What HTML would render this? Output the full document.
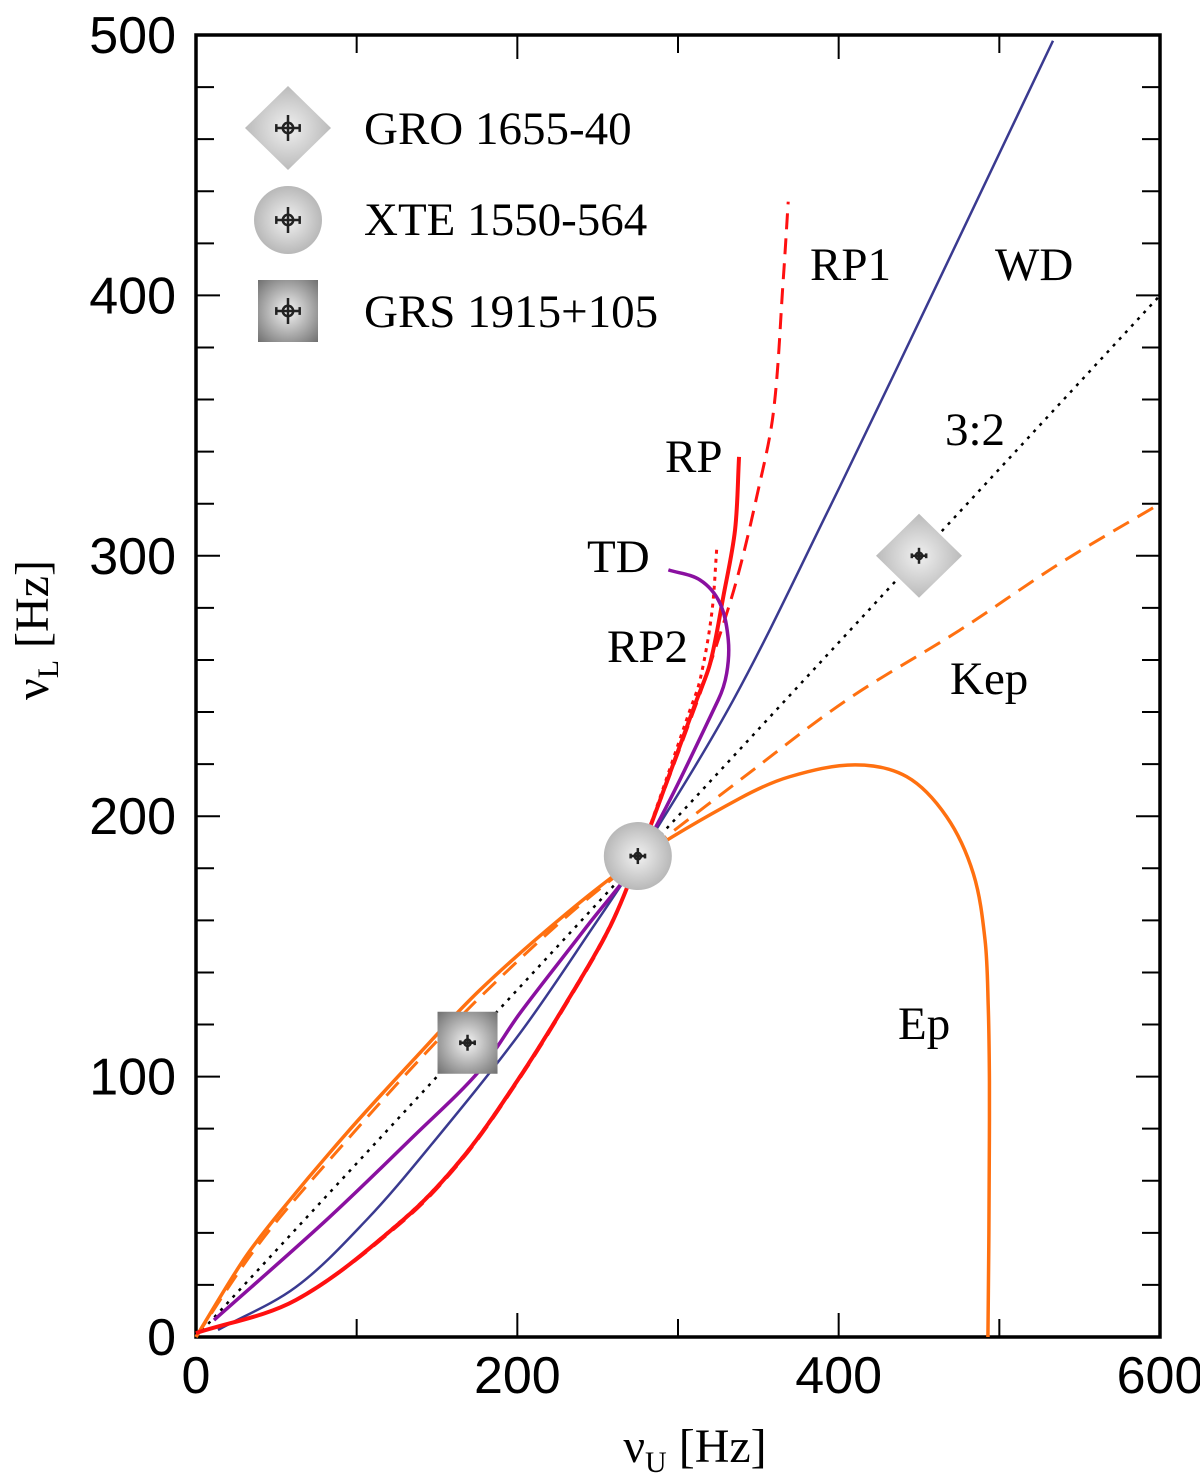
<!DOCTYPE html>
<html><head><meta charset="utf-8"><style>
body{margin:0;background:#fff}
svg{display:block}
</style></head><body>
<svg id="chart" width="1200" height="1475" viewBox="0 0 1200 1475">
<defs>
<radialGradient id="gc" cx="50%" cy="50%" r="50%"><stop offset="0" stop-color="#f2f2f2"/><stop offset="1" stop-color="#b8b8b8"/></radialGradient>
<radialGradient id="gs" cx="50%" cy="50%" r="70%"><stop offset="0" stop-color="#f4f4f4"/><stop offset="1" stop-color="#707070"/></radialGradient>
<radialGradient id="gd" cx="50%" cy="50%" r="60%"><stop offset="0" stop-color="#f0f0f0"/><stop offset="1" stop-color="#b0b0b0"/></radialGradient>
</defs>
<g id="axes"></g>
<g id="curves"></g>
<g id="marks"></g>
<g id="labels" font-family="Liberation Serif, serif" font-size="47" fill="#000">
<text x="810" y="280">RP1</text>
<text x="995" y="280">WD</text>
<text x="945" y="445">3:2</text>
<text x="665" y="472">RP</text>
<text x="587" y="572">TD</text>
<text x="607" y="662">RP2</text>
<text x="950" y="694">Kep</text>
<text x="898" y="1039">Ep</text>
</g>
<g id="legend" font-family="Liberation Serif, serif" font-size="47">
<text x="364" y="144">GRO 1655-40</text>
<text x="364" y="235">XTE 1550-564</text>
<text x="364" y="327">GRS 1915+105</text>
</g>
<text x="48" y="630" transform="rotate(-90 48 630)" text-anchor="middle" font-family="Liberation Serif, serif" font-size="48">ν<tspan font-size="30" dy="10">L</tspan><tspan dy="-10"> [Hz]</tspan></text>
<text x="695" y="1462" text-anchor="middle" font-family="Liberation Serif, serif" font-size="48">ν<tspan font-size="30" dy="10">U</tspan><tspan dy="-10"> [Hz]</tspan></text>
</svg>
<script>
const xTicks=[0,200,400,600];
const yTicks=[0,100,200,300,400,500];
const kepU=[0,30,52.3,93.8,135.3,176.8,230.7,275.3,338.6,405,475.5,537.7,600];
const kepL=[0,28,46,75.5,104,130.5,161.5,183.8,213.9,244.6,271.5,297.1,320];
const epU=[0,30,52.3,93.8,135.3,176.8,230.7,275.3,338.6,369.7,410.2,442.3,467.2,483.8,491.1,493.1,493.8,493.8,493.5,492.9];
const epL=[0,30,48,78.3,106.4,133.3,162.7,183.8,206.9,215.2,219.7,215.2,199.8,178,152.5,126.8,101.3,75.6,40,0];
const wdU=[13.7,62.2,106.2,145.6,201.7,247.3,275.3,334.4,392.6,454.8,533.4];
const wdL=[2.7,19.2,45,73.2,116.7,157.6,183.8,244.6,316.3,396,497.8];
const rpU=[0,62.2,129,166.4,201.7,232.8,257.7,275.3,311.6,320,328.2,335.5,338];
const rpL=[1.5,14.2,45,69.2,100,130.7,157.6,183.8,244.6,258.7,284.3,309.9,338];
const rp1U=[0,62.2,129,166.4,201.7,232.8,257.7,275.3,311.6,322,336.5,349,359.3,365.5,368.6];
const rp1L=[1.5,14.2,44.5,68.7,99.5,130.2,157.2,183.8,243.5,262,290.7,322.7,354.7,406,436];
const rp2U=[0,62.2,129,166.4,201.7,232.8,257.7,275.3,307,313.7,321,324.2];
const rp2L=[1.5,14.2,45.3,69.5,100.3,131,158,183.8,240,252.3,277.9,303.5];
const tdU=[11.2,81.3,135.3,176.8,201.7,243.2,275.3,325,330.3,331.3,326.1,313.7,294];
const tdL=[6.5,45,77,102.5,124.4,157.6,183.8,244.6,254.9,267.7,281.8,290.7,294.6];
const srcName=['GRO 1655-40','XTE 1550-564','GRS 1915+105'];
const srcU=[450,275,169];
const srcL=[300,184.7,113];
const X=v=>196+v*964/600, Y=v=>1337-v*1302/500;
const NS='http://www.w3.org/2000/svg';
function mk(t,a,p){const e=document.createElementNS(NS,t);for(const k in a)e.setAttribute(k,a[k]);p.appendChild(e);return e;}
const ax=document.getElementById('axes');
const frame=mk('rect',{x:196,y:35,width:964,height:1302,fill:'none',stroke:'#000','stroke-width':3.5},ax);


for(let v=0;v<=600;v+=100){const L=v%200===0?24:18;
 mk('line',{x1:X(v),x2:X(v),y1:1337,y2:1337-L,stroke:'#000','stroke-width':2},ax);
 mk('line',{x1:X(v),x2:X(v),y1:35,y2:35+L,stroke:'#000','stroke-width':2},ax);}
for(let v=0;v<=500;v+=20){const L=v%100===0?24:18;
 mk('line',{x1:196,x2:196+L,y1:Y(v),y2:Y(v),stroke:'#000','stroke-width':2},ax);
 mk('line',{x1:1160,x2:1160-L,y1:Y(v),y2:Y(v),stroke:'#000','stroke-width':2},ax);}
xTicks.forEach(v=>{const t=mk('text',{x:X(v),y:1393,'text-anchor':'middle','font-family':'Liberation Sans, sans-serif','font-size':52},ax);t.textContent=v;
 
 });
yTicks.forEach(v=>{const t=mk('text',{x:176,y:Y(v)+18,'text-anchor':'end','font-family':'Liberation Sans, sans-serif','font-size':52},ax);t.textContent=v;
 
 });
function path(us,ls){const p=us.map((u,i)=>[X(u),Y(ls[i])]);const n=p.length;
 const dist=(a,b)=>Math.hypot(b[0]-a[0],b[1]-a[1]);
 const tan=p.map((q,i)=>{const a=p[Math.max(0,i-1)],b=p[Math.min(n-1,i+1)];const d=dist(a,b)||1;return[(b[0]-a[0])/d,(b[1]-a[1])/d];});
 let d='M'+p[0].join(',');
 for(let i=0;i<n-1;i++){const L=dist(p[i],p[i+1])/3;
  const c1=[p[i][0]+tan[i][0]*L,p[i][1]+tan[i][1]*L],c2=[p[i+1][0]-tan[i+1][0]*L,p[i+1][1]-tan[i+1][1]*L];
  d+=`C${c1.join(',')} ${c2.join(',')} ${p[i+1].join(',')}`;}return d;}
const cg=document.getElementById('curves');
function curve(us,ls,color,w,dash,name){const e=mk('path',{d:path(us,ls),fill:'none',stroke:color,'stroke-width':w},cg);if(dash)e.setAttribute('stroke-dasharray',dash);
 
 }
const r32=mk('line',{x1:X(0),y1:Y(0),x2:X(600),y2:Y(400),stroke:'#000','stroke-width':2.5,'stroke-dasharray':'3,6'},cg);


curve(kepU,kepL,'#ff7010',3,'18,10','curve-kep');
curve(epU,epL,'#ff7010',3.5,null,'curve-ep');
curve(wdU,wdL,'#3a3a90',2.5,null,'curve-wd');
curve(rp1U,rp1L,'#ff1010',3,'16,9','curve-rp1');
curve(rp2U,rp2L,'#ff1010',3,'4,5','curve-rp2');
curve(rpU,rpL,'#ff1010',4,null,'curve-rp');
curve(tdU,tdL,'#8a10a0',3.5,null,'curve-td');
const mg=document.getElementById('marks');
function cross(cx,cy,s){const g=mk('g',{stroke:'#222','stroke-width':2.5,fill:'none'},mg);
 mk('line',{x1:cx-9*s,x2:cx+9*s,y1:cy,y2:cy},g);mk('line',{x1:cx,x2:cx,y1:cy-10*s,y2:cy+10*s},g);
 mk('line',{x1:cx-9*s,x2:cx-9*s,y1:cy-3*s,y2:cy+3*s},g);mk('line',{x1:cx+9*s,x2:cx+9*s,y1:cy-3*s,y2:cy+3*s},g);
 mk('circle',{cx:cx,cy:cy,r:4*s},g);return g;}
function marker(k,cx,cy,name){let e;
 if(k===0)e=mk('polygon',{points:`${cx},${cy-42} ${cx+43},${cy} ${cx},${cy+42} ${cx-43},${cy}`,fill:'url(#gd)'},mg);
 else if(k===1)e=mk('circle',{cx:cx,cy:cy,r:34,fill:'url(#gc)'},mg);
 else e=mk('rect',{x:cx-30,y:cy-31,width:60,height:62,fill:'url(#gs)'},mg);
 
 
 cross(cx,cy,name.startsWith('legend')?1.3:0.8);}
srcU.forEach((u,i)=>marker(i,X(u),Y(srcL[i]),'source-marker-'+i));
marker(0,288,128,'legend-marker-gro');marker(1,288,220,'legend-marker-xte');marker(2,288,311,'legend-marker-grs');
</script>
</body></html>
